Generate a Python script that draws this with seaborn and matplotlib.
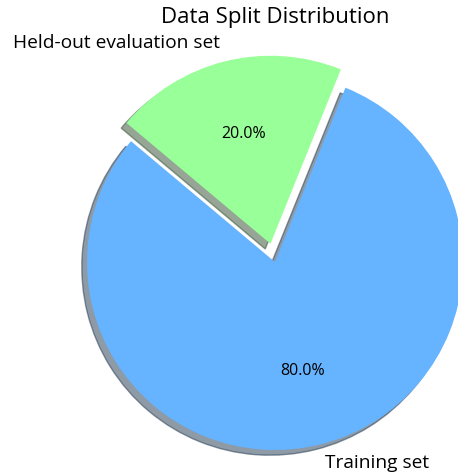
import matplotlib
matplotlib.use("Agg")
import matplotlib.pyplot as plt
import seaborn as sns

labels = ["Training set", "Held-out evaluation set"]
sizes = [80, 20]
colors = ["#66b3ff", "#99ff99"]
explode = [0, 0.1]

plt.rcParams["font.family"] = ["Open Sans", "DejaVu Sans"]

fig = plt.figure(figsize=(4.58, 4.75), dpi=100)
# pie radius ~188 px, centre near (273, 260) px from top-left
ax = fig.add_axes([40 / 458, -22 / 475, 470 / 458, 470 / 475])
ax.pie(sizes, labels=labels, colors=sns.color_palette(colors), explode=explode,
       autopct="%1.1f%%", shadow=True, startangle=140,
       textprops={"fontsize": 13.8})
for t in ax.texts:
    if "%" in t.get_text():
        t.set_fontsize(11.5)
fig.text(275 / 458, 1 - 18 / 475, "Data Split Distribution",
         ha="center", va="center", fontsize=16)

fig.savefig("out.png", dpi=100)
